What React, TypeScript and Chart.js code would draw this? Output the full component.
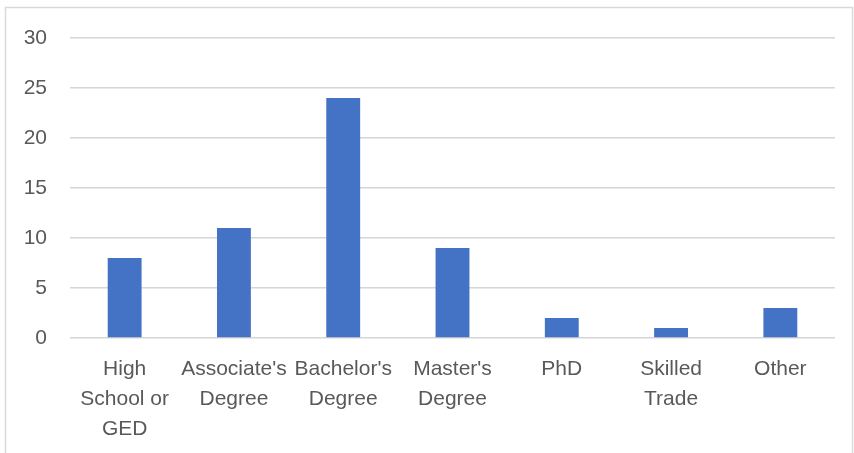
import React, { useEffect, useRef } from "react";
import { Chart, registerables } from "chart.js";

Chart.register(...registerables);

const categories: string[][] = [
  ["High", "School or", "GED"],
  ["Associate's", "Degree"],
  ["Bachelor's", "Degree"],
  ["Master's", "Degree"],
  ["PhD"],
  ["Skilled", "Trade"],
  ["Other"],
];
const counts: number[] = [8, 11, 24, 9, 2, 1, 3];
const yMin = 0;
const yMax = 30;
const yStep = 5;

const borderPlugin = {
  id: "outerBorder",
  beforeDraw(chart: any) {
    const ctx = chart.ctx;
    ctx.save();
    ctx.fillStyle = "#ffffff";
    ctx.fillRect(0, 0, chart.width, chart.height);
    ctx.strokeStyle = "#d9d9d9";
    ctx.lineWidth = 1.5;
    ctx.beginPath();
    ctx.moveTo(5.5, chart.height + 2);
    ctx.lineTo(5.5, 7.5);
    ctx.lineTo(852.5, 7.5);
    ctx.lineTo(852.5, chart.height + 2);
    ctx.stroke();
    ctx.restore();
  },
};

export default function App() {
  const ref = useRef<HTMLCanvasElement>(null);
  useEffect(() => {
    if (!ref.current) return;
    const font = { family: "'Liberation Sans', Arial, sans-serif", size: 21 };
    const chart = new Chart(ref.current, {
      type: "bar",
      data: {
        labels: categories,
        datasets: [
          {
            data: counts,
            backgroundColor: "#4472C4",
            barPercentage: 0.31,
            categoryPercentage: 1,
          },
        ],
      },
      options: {
        responsive: false,
        animation: false,
        layout: { padding: { top: 38, right: 19, left: 0, bottom: 0 } },
        plugins: { legend: { display: false }, tooltip: { enabled: false } },
        scales: {
          x: {
            grid: { display: false, drawTicks: false },
            border: { display: false },
            ticks: {
              color: "#595959",
              font: { ...font, lineHeight: 1.43 },
              maxRotation: 0,
              minRotation: 0,
              autoSkip: false,
              padding: 16,
            },
            afterFit: (s: any) => {
              s.height = 115;
            },
          },
          y: {
            min: yMin,
            max: yMax,
            grid: { color: "#d6d6d6", lineWidth: 1.5, drawTicks: false },
            border: { display: false },
            ticks: { stepSize: yStep, color: "#595959", font, padding: 23 },
            afterFit: (s: any) => {
              s.width = 70;
            },
          },
        },
      },
      plugins: [borderPlugin],
    });
    return () => chart.destroy();
  }, []);
  return (
    <canvas
      ref={ref}
      width={854}
      height={453}
      style={{ position: "absolute", left: 0, top: 0, display: "block" }}
    />
  );
}
